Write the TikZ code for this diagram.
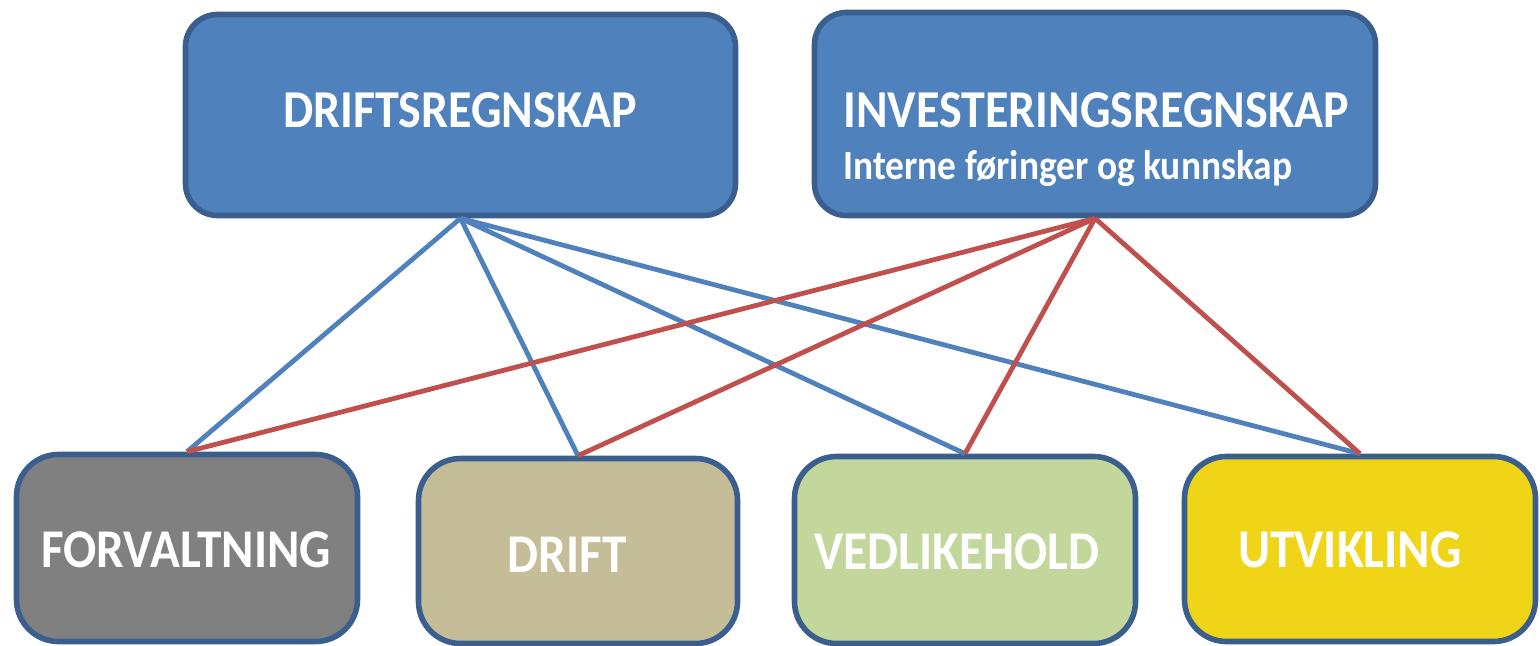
\documentclass[tikz,border=0pt]{standalone}
\usepackage{fontspec}
\setmainfont{Carlito}
\definecolor{boxblue}{HTML}{4F81BD}
\definecolor{edgeblue}{HTML}{3A5F8E}
\definecolor{linkred}{HTML}{C0504D}
\definecolor{fgray}{HTML}{808080}
\definecolor{ftan}{HTML}{C4BD97}
\definecolor{fgreen}{HTML}{C3D69B}
\definecolor{fyellow}{HTML}{F0D418}
\newcommand{\tall}[1]{\scalebox{1}[1.11]{#1}}
\tikzset{
  topbox/.style={draw=edgeblue, line width=2.8pt, fill=boxblue, rounded corners=16pt, inner sep=0pt},
  botbox/.style={draw=edgeblue, line width=2.8pt, rounded corners=21pt, inner sep=0pt},
  lbl/.style={text=white, font=\bfseries, inner sep=0pt},
  bluelink/.style={draw=boxblue, line width=2.4pt},
  redlink/.style={draw=linkred, line width=2.4pt},
}
\begin{document}
\begin{tikzpicture}[x=0.5pt,y=-0.5pt]
\useasboundingbox (0,0) rectangle (1540,646);
\node[topbox, minimum width=275pt, minimum height=100.5pt] (dr) at (460.5,115) {};
\node[topbox, minimum width=280.5pt, minimum height=101.5pt] (ir) at (1095,114) {};
\node[botbox, fill=fgray, minimum width=170.5pt, minimum height=93.5pt] (fo) at (187,548) {};
\node[botbox, fill=ftan, minimum width=159.5pt, minimum height=92.5pt] (df) at (578,551) {};
\node[botbox, fill=fgreen, minimum width=170.5pt, minimum height=93.5pt] (ve) at (965,550) {};
\node[botbox, fill=fyellow, minimum width=175.5pt, minimum height=92.5pt] (ut) at (1360,549) {};
\foreach \t in {fo,df,ve,ut} {
  \draw[bluelink] (dr.south) -- (\t.north);
}
\foreach \t in {fo,df,ve,ut} {
  \draw[redlink] (ir.south) -- (\t.north);
}
\node[lbl, font=\bfseries\fontsize{24}{28}\selectfont] (drt) at (460,110) {\tall{DRIFTSREGNSKAP}};
\node[lbl, anchor=west, font=\bfseries\fontsize{24}{28}\selectfont] (irt) at (843,110) {\tall{INVESTERINGSREGNSKAP}};
\node[lbl, anchor=west, font=\bfseries\fontsize{18.7}{22}\selectfont] (irs) at (843,168) {\tall{Interne føringer og kunnskap}};
\node[lbl, font=\bfseries\fontsize{24.6}{28}\selectfont] (fot) at (186,550) {\tall{FORVALTNING}};
\node[lbl, font=\bfseries\fontsize{24.6}{28}\selectfont] (dft) at (567,555) {\tall{DRIFT}};
\node[lbl, font=\bfseries\fontsize{24.6}{28}\selectfont] (vet) at (957,552) {\tall{VEDLIKEHOLD}};
\node[lbl, font=\bfseries\fontsize{24.6}{28}\selectfont] (utt) at (1350,550) {\tall{UTVIKLING}};
\end{tikzpicture}
\end{document}
